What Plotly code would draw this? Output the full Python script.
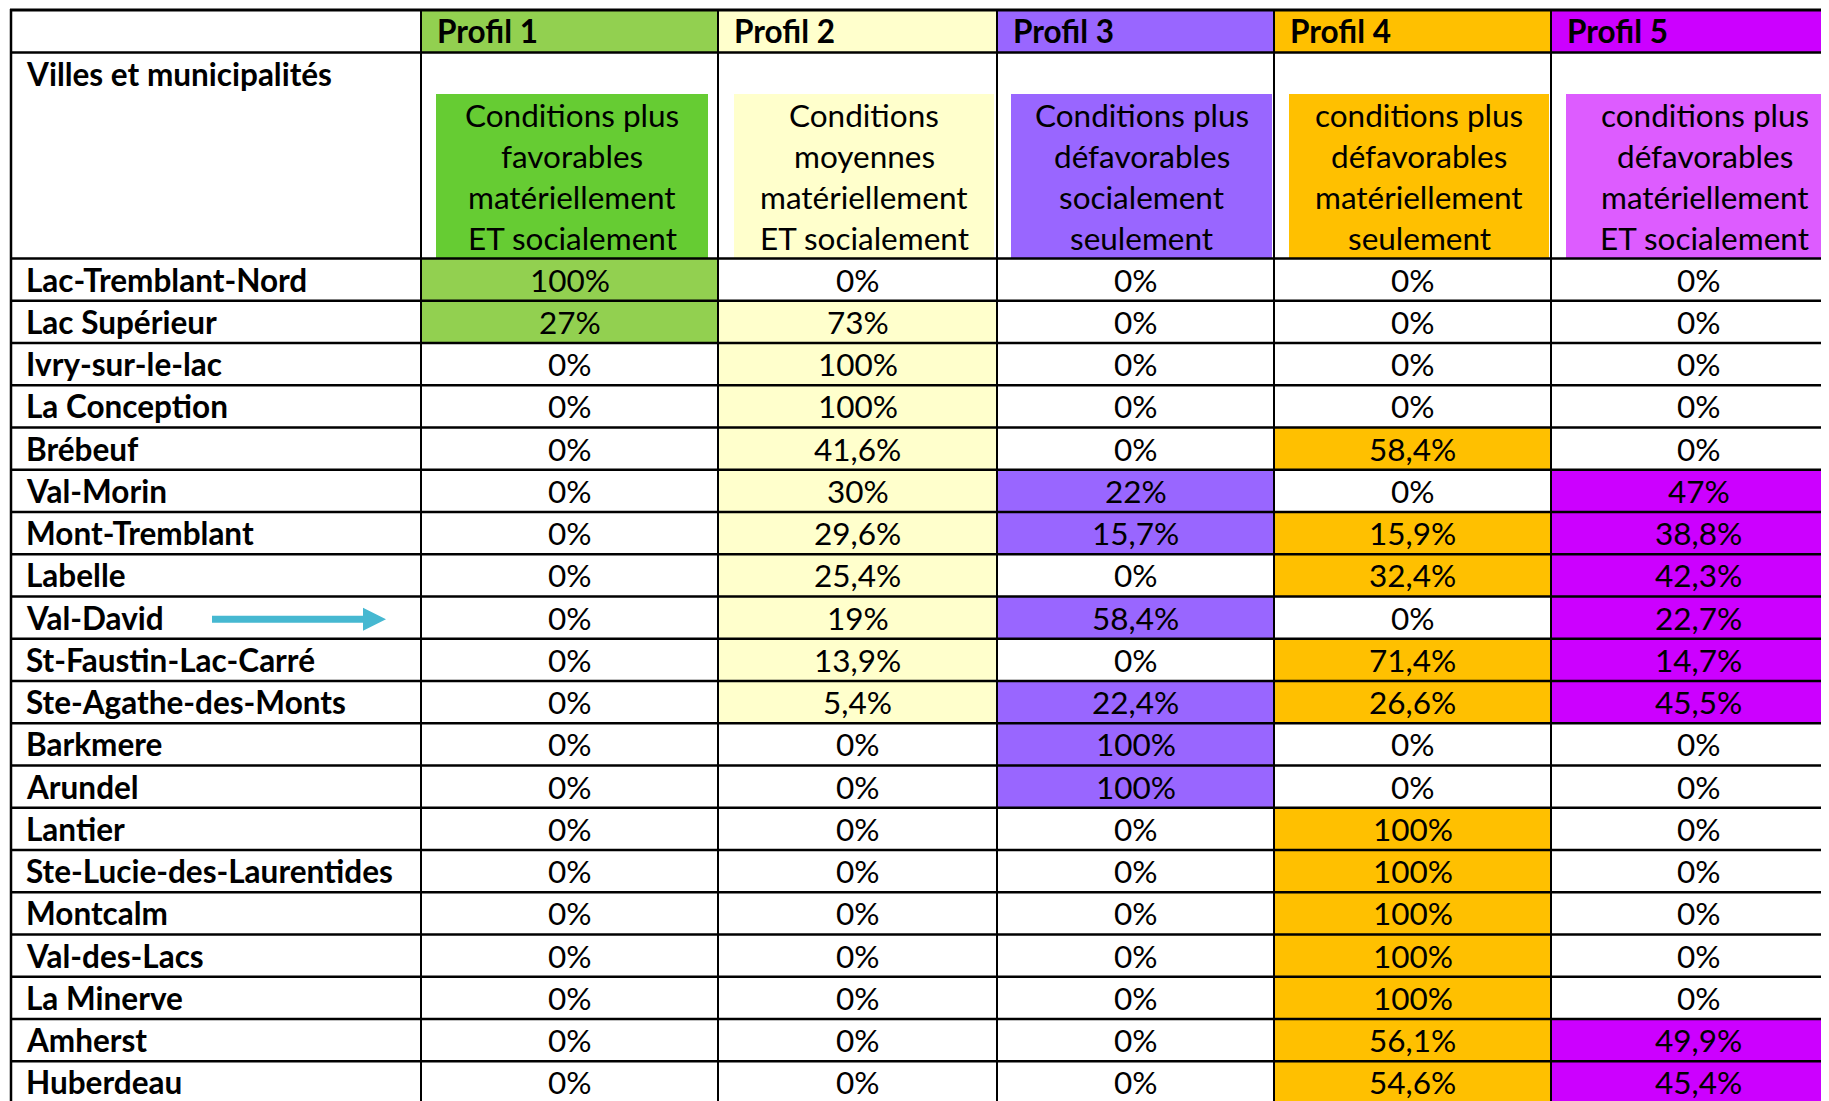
import plotly.graph_objects as go

# ---------------- data ----------------
cities = [
    "Lac-Tremblant-Nord", "Lac Supérieur", "Ivry-sur-le-lac", "La Conception",
    "Brébeuf", "Val-Morin", "Mont-Tremblant", "Labelle", "Val-David",
    "St-Faustin-Lac-Carré", "Ste-Agathe-des-Monts", "Barkmere", "Arundel",
    "Lantier", "Ste-Lucie-des-Laurentides", "Montcalm", "Val-des-Lacs",
    "La Minerve", "Amherst", "Huberdeau",
]
profils = ["Profil 1", "Profil 2", "Profil 3", "Profil 4", "Profil 5"]
descriptions = [
    ["Conditions plus", "favorables", "matériellement", "ET socialement"],
    ["Conditions", "moyennes", "matériellement", "ET socialement"],
    ["Conditions plus", "défavorables", "socialement", "seulement"],
    ["conditions plus", "défavorables", "matériellement", "seulement"],
    ["conditions plus", "défavorables", "matériellement", "ET socialement"],
]
profil1 = [100, 27, 0, 0, 0, 0, 0, 0, 0, 0, 0, 0, 0, 0, 0, 0, 0, 0, 0, 0]
profil2 = [0, 73, 100, 100, 41.6, 30, 29.6, 25.4, 19, 13.9, 5.4, 0, 0, 0, 0, 0, 0, 0, 0, 0]
profil3 = [0, 0, 0, 0, 0, 22, 15.7, 0, 58.4, 0, 22.4, 100, 100, 0, 0, 0, 0, 0, 0, 0]
profil4 = [0, 0, 0, 0, 58.4, 0, 15.9, 32.4, 0, 71.4, 26.6, 0, 0, 100, 100, 100, 100, 100, 56.1, 54.6]
profil5 = [0, 0, 0, 0, 0, 47, 38.8, 42.3, 22.7, 14.7, 45.5, 0, 0, 0, 0, 0, 0, 0, 49.9, 45.4]
highlighted_city = "Val-David"

# ---------------- styles ----------------
header_colors = ["#92D050", "#FFFFCC", "#9966FF", "#FFC000", "#CC00FF"]
box_colors = ["#66CC33", "#FFFFCC", "#9966FF", "#FFC000", "#DD5CFF"]
arrow_color = "#46B8D1"
FONT = "Lato"
FS = 31.5

W, H = 1829, 1101
OFF = 8  # page body margin
col_edges = [11, 421, 718, 997, 1274, 1551, 1846]
box_margins = [(15, 10), (16, 3), (14, 2), (15, 2), (15, 3)]
y_top, y_h1, y_h2, row_h = 10, 52.5, 258.5, 42.25
box_top = 94

values = [profil1, profil2, profil3, profil4, profil5]


def fmt(v):
    return f"{v:g}".replace(".", ",") + "%"


n_rows = len(cities)
row_edges = [y_h2 + i * row_h for i in range(n_rows + 1)]

fig = go.Figure()
shapes = []
annotations = []


def txt(x, y, t, anchor="center", bold=False):
    f = dict(family=FONT, size=FS, color="black")
    if bold:
        f["weight"] = 700
    annotations.append(dict(x=x, y=y, text=t, xanchor=anchor, yanchor="middle",
                            showarrow=False, font=f))


# header rows
for j, col in enumerate(header_colors):
    shapes.append(dict(type="rect", x0=col_edges[j + 1], x1=col_edges[j + 2], y0=y_top, y1=y_h1,
                       fillcolor=col, line_width=0, layer="below"))
    txt(col_edges[j + 1] + 14, (y_top + y_h1) / 2, profils[j], "left", True)
    ml, mr = box_margins[j]
    bx0, bx1 = col_edges[j + 1] + ml, col_edges[j + 2] - mr
    shapes.append(dict(type="rect", x0=bx0, x1=bx1, y0=box_top, y1=y_h2,
                       fillcolor=box_colors[j], line_width=0, layer="below"))
    line_h = 41
    yc = (box_top + y_h2) / 2
    nl = len(descriptions[j])
    for k, t in enumerate(descriptions[j]):
        txt((bx0 + bx1) / 2, yc + (k - (nl - 1) / 2) * line_h, t)

txt(24, 74, "Villes et municipalités", "left", True)

# data cells
for i, city in enumerate(cities):
    y0, y1 = row_edges[i], row_edges[i + 1]
    yc = (y0 + y1) / 2
    txt(24, yc, city, "left", True)
    for j in range(5):
        v = values[j][i]
        x0, x1 = col_edges[j + 1], col_edges[j + 2]
        if v > 0:
            shapes.append(dict(type="rect", x0=x0, x1=x1, y0=y0, y1=y1,
                               fillcolor=header_colors[j], line_width=0, layer="below"))
        txt((x0 + x1) / 2, yc, fmt(v))

# grid lines
for y, w in [(y_top, 3), (y_h1, 2.5)] + [(r, 2.5) for r in row_edges]:
    shapes.append(dict(type="line", x0=col_edges[0] - 1, x1=col_edges[-1], y0=y, y1=y,
                       line=dict(color="black", width=w)))
for x in col_edges[:-1]:
    shapes.append(dict(type="line", x0=x, x1=x, y0=y_top - 1, y1=row_edges[-1],
                       line=dict(color="black", width=2.5 if x == col_edges[0] else 2)))

# arrow next to highlighted city
ai = cities.index(highlighted_city)
ay = (row_edges[ai] + row_edges[ai + 1]) / 2 + 1.5
path = (f"M 212 {ay - 3.5} L 363 {ay - 3.5} L 363 {ay - 11.5} L 386 {ay} "
        f"L 363 {ay + 11.5} L 363 {ay + 3.5} L 212 {ay + 3.5} Z")
shapes.append(dict(type="path", path=path, fillcolor=arrow_color, line_width=0))

# invisible anchor trace so the axes exist
fig.add_trace(go.Scatter(x=[OFF], y=[OFF], mode="markers", marker=dict(opacity=0),
                         hoverinfo="skip", showlegend=False))

fig.update_layout(
    width=W, height=H, margin=dict(l=0, r=0, t=0, b=0),
    paper_bgcolor="white", plot_bgcolor="white",
    xaxis=dict(range=[OFF, W + OFF], visible=False, fixedrange=True),
    yaxis=dict(range=[H + OFF, OFF], visible=False, fixedrange=True),
    shapes=shapes, annotations=annotations, showlegend=False,
)
fig.write_html("out.html")
